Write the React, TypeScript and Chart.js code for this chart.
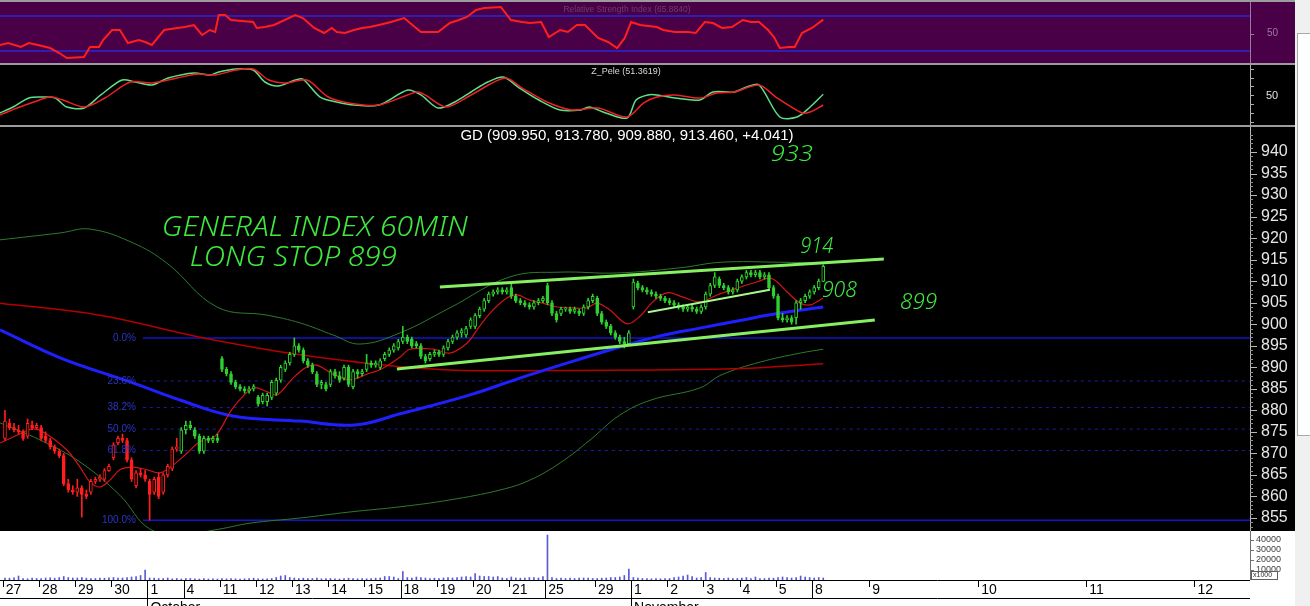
import React, { useEffect, useRef } from 'react';
import { Chart, registerables } from 'chart.js';

Chart.register(...registerables);

// ---------------- data ----------------
// hourly candles [open, high, low, close], 27 Sep – 8 Nov
const ohlc: number[][] = [
  [873.5, 880, 873, 877.5], [877, 878, 875.5, 876], [876, 877, 875, 875.5], [875.5, 876.5, 874.5, 875], [875, 875.5, 873, 873.5], [874, 878, 873.5, 877], [876.5, 877.5, 875.5, 876], [876, 877, 875.5, 876.5],
  [876, 876.5, 873, 873.5], [874, 875, 872.5, 873], [873, 873.5, 871, 871.5], [871.5, 872, 870, 870.5], [870.5, 871, 869, 869.5], [869.5, 870, 862.5, 863], [863, 864, 861, 861.5], [861.5, 862.5, 860.5, 861],
  [861, 864, 860, 862], [862, 862.5, 855.2, 860.5], [860.5, 861.5, 859.5, 860], [861, 864, 860.5, 863.5], [863.5, 864.5, 863, 864], [864, 865, 863.5, 864.5], [864, 866.5, 863.5, 866], [866, 867.5, 865.8, 867],
  [869, 872.5, 868.5, 872], [872.5, 874, 872, 873.5], [873.5, 874.5, 872.5, 873], [873, 873.5, 868, 868.5], [868.5, 869, 863.5, 864], [862.5, 866, 862, 865.5], [865.5, 866.5, 864.5, 865], [865, 866, 863.5, 864],
  [863.5, 864, 854.5, 860.5], [861, 864.5, 860.5, 864], [864.5, 865.5, 859.5, 860], [861, 865.5, 860.5, 865], [865, 867.5, 864.5, 867], [866.5, 871.5, 866, 871], [871, 873.5, 870.5, 871.5], [870.5, 876, 870, 875.5],
  [875.5, 877.5, 874.5, 876.5], [876.5, 877.5, 875.5, 876], [875.5, 876, 873.5, 874], [874, 874.5, 870, 870.5], [870.5, 874, 870, 873.5], [873.5, 874, 872.5, 873], [873, 874, 872.5, 873.5], [873.5, 874.5, 872.5, 873],
  [892, 892.5, 889, 889.5], [889.5, 890, 888, 888.5], [888.5, 889, 886, 886.5], [886.5, 887, 885, 885.5], [885.5, 886, 884.5, 885], [885, 885.5, 884, 884.5], [884.5, 885.5, 884, 885], [885, 886, 884.5, 885.5],
  [883, 883.5, 881, 881.5], [882, 884, 881.5, 883.5], [882, 884, 881, 883.5], [883, 887, 882.5, 886.5], [884, 887.5, 883.5, 887], [887, 890.5, 886.5, 890], [889.5, 891.5, 889, 891], [891, 893.5, 890.5, 893],
  [893, 896.8, 892.5, 895], [895, 895.5, 893.5, 894], [894, 894.5, 891, 891.5], [891.5, 892, 890, 890.5], [890.5, 891, 888.5, 889], [888.5, 889, 885.5, 886], [886, 887, 885, 886.5], [886, 886.5, 884.5, 885],
  [886, 889.5, 885.5, 889], [889, 889.5, 887.5, 888], [888, 889, 886.5, 887], [887.5, 890.5, 887, 890], [890, 890.5, 885.5, 886], [885.5, 889.5, 885, 889], [889, 889.5, 887.5, 888.5], [888.5, 889.5, 888, 889],
  [889.5, 893, 889, 891], [891, 891.5, 890, 890.5], [890.5, 891.5, 890, 891], [890, 892, 889.5, 891.5], [892, 893.5, 891.5, 893], [893, 894.5, 892.5, 894], [894, 895.5, 893.5, 895], [894.5, 896.5, 894, 896],
  [896, 899.5, 895.5, 897], [897, 897.5, 895.5, 896], [896.5, 897, 894.5, 895], [895.5, 896, 894.5, 895], [895, 895.5, 892, 892.5], [892.5, 893, 891, 891.5], [892, 893.5, 891.5, 893], [893, 894, 892.5, 893.5],
  [893.5, 894, 892.5, 893], [893, 895, 892.5, 894.5], [894.5, 896.5, 894, 896], [896, 897.5, 895.5, 897], [897, 898.5, 896.5, 898], [898, 899, 897, 898.5], [897.5, 899.5, 897, 899], [899.5, 901.5, 899, 901],
  [899.5, 902.5, 899, 902], [902, 904, 901.5, 903.5], [903.5, 906, 903, 905.5], [905.5, 907.5, 905, 907], [907, 908, 906.5, 907.5], [907.5, 908.5, 907, 908], [908, 908.5, 907, 907.5], [907.5, 908.5, 907, 908],
  [908.5, 909.5, 906, 906.5], [906.5, 907, 905, 905.5], [905.5, 906, 904.5, 905], [905, 905.5, 904, 904.5], [904.5, 905, 903.5, 904], [904, 905.5, 903.5, 905], [905, 906, 904.5, 905.5], [905.5, 906.5, 905, 906],
  [909, 909.5, 904.5, 905], [905, 905.5, 902, 902.5], [902.5, 903, 900.5, 901], [902.5, 904, 902, 903.5], [903.5, 904, 903, 903.7], [903.5, 904, 902.5, 903], [903, 904, 902.5, 903.5], [903, 903.5, 902, 902.5], [902.5, 904.5, 902, 904], [904, 906, 903.5, 905.5], [905.5, 907, 905, 906.5],
  [906, 906.5, 902, 902.5], [902.5, 903, 900, 900.5], [900.5, 901, 899, 899.5], [899.5, 900, 897.5, 898], [898, 898.5, 896.5, 897], [897, 897.5, 895.5, 896], [896, 897, 894.5, 895.5], [895.5, 898.5, 895, 898],
  [904, 910.5, 903.5, 909.8], [909.5, 910, 908, 908.5], [908.5, 909, 907.5, 908], [908, 908.5, 907, 907.5], [907.5, 908, 906.5, 907], [907, 907.5, 906, 906.5], [906.5, 907, 905.5, 906], [906, 906.5, 905, 905.5],
  [905.5, 906, 904.5, 905], [905, 905.5, 904, 904.5], [904.5, 905, 903.5, 904], [904, 904.5, 903, 903.5], [903.5, 904.5, 903, 904], [904, 904.5, 903, 903.5], [903.5, 904, 902.5, 903], [903, 904.5, 902.5, 904],
  [904, 907.5, 903.5, 907], [907, 909.5, 906.5, 909], [909, 912, 908.5, 911], [910.5, 911, 908.5, 909], [909, 909.5, 908, 908.5], [908.5, 909, 907, 907.5], [907.5, 908.5, 907, 908], [908, 910.5, 907.5, 910],
  [910, 911.5, 909.5, 911], [911, 912.5, 910.5, 912], [912, 912.5, 911, 911.5], [911.5, 912.5, 911, 912], [912, 912.5, 910.5, 911], [911, 912, 910.5, 911.5], [911.5, 912, 908, 908.5], [908.5, 909, 906, 906.5],
  [906.5, 907, 901, 901.5], [901.5, 902.5, 900.5, 901], [901, 902, 900.5, 901.5], [901.5, 902, 900, 900.5], [901.5, 905.5, 900, 905], [905, 906, 903.5, 905.5], [905.5, 907, 905, 906.5], [906.5, 908, 906, 907.5],
  [907.5, 909, 907, 908.5], [908.5, 910.5, 908, 910], [909.95, 913.78, 909.88, 913.46],
];
const RED_UNTIL = 39; // candles before this index are painted red

const volume: number[] = [
  2000, 1800, 2200, 4000, 1500, 1200, 1800, 1500,
  1500, 2000, 2200, 1800, 2500, 3500, 2500, 2000,
  2000, 2500, 1800, 1500, 1500, 2000, 1800, 2200,
  2500, 1800, 2000, 2500, 3000, 3500, 4500, 10000,
  2000, 1800, 1500, 1500, 2000, 1200, 1500, 1000,
  1500, 1500, 1200, 1000, 1500, 1000, 1200, 1000,
  1500, 1200, 1500, 1200, 1000, 1200, 1500, 1800,
  1200, 1000, 1200, 1500, 2500, 4000, 4500, 2500,
  2000, 1500, 1800, 1500, 1500, 2000, 1200, 1500,
  1500, 1200, 1000, 1500, 1800, 1500, 1200, 1500,
  1200, 1500, 1800, 2000, 3500, 3500, 3000, 1500,
  8500, 2500, 2000, 3000, 2500, 2000, 1500, 1800,
  1500, 2000, 2500, 2000, 2500, 3000, 3500, 3000,
  6500, 4000, 3500, 3500, 3000, 3500, 2000, 1500,
  3000, 2000, 1800, 2000, 2500, 2500, 2000, 3500,
  45000, 2500, 1500, 2000, 1500, 1800, 1500, 2000, 2000, 1800, 1500,
  1500, 1800, 2000, 2500, 2500, 3000, 4500, 11000,
  2500, 2000, 1500, 1500, 1200, 1500, 1200, 1500,
  1500, 2500, 3000, 4000, 5000, 3500, 2000, 2500,
  7500, 2500, 2000, 1800, 1500, 2000, 1500, 1500,
  2000, 2500, 1500, 3000, 1500, 1500, 2000, 1800,
  2500, 3000, 2500, 2000, 2500, 4000, 3000, 2500,
  2000, 2500, 2000,
];

// indicator lines as [bar, value]
const maShort: number[][] = [
  [-1.1, 872.4], [1.8, 873.8], [6.2, 875.7], [8.9, 874.7], [13.7, 870.8], [16.6, 866.8], [18.8, 863.4], [21.0, 862.2], [23.2, 863.8], [25.4, 866.2], [28.3, 866.8], [31.4, 866.2], [34.3, 865.5], [37.2, 867.3], [40.3, 870.1], [43.1, 872.7], [46.5, 874.0], [50.4, 880.5], [54.9, 885.2], [58.0, 884.3], [60.2, 883.6], [63.7, 887.5], [66.8, 890.1], [69.0, 890.5], [72.6, 888.4], [76.3, 887.1], [80.1, 888.4], [83.6, 889.8], [87.4, 892.4], [89.6, 894.2], [94.7, 894.2], [98.4, 893.3], [102.2, 895.6], [104.4, 898.7], [107.3, 902.6], [111.0, 906.1], [113.3, 906.8], [116.1, 905.6], [119.0, 904.9], [122.1, 904.0], [125.6, 903.8], [128.7, 903.8], [131.0, 904.9], [133.8, 903.3], [137.6, 900.1], [140.5, 901.9], [143.3, 905.2], [146.4, 907.3], [150.0, 906.3], [153.7, 905.2], [157.5, 906.8], [161.9, 908.4], [166.3, 909.8], [169.2, 910.7], [170.8, 909.8], [173.0, 907.5], [175.9, 904.9], [178.1, 904.5], [181, 906.1],
];
const maLong: number[][] = [
  [-1.1, 904.9], [21.0, 902.1], [43.1, 897.0], [65.3, 892.9], [87.4, 890.1], [98.4, 889.4], [109.5, 889.2], [142.9, 889.4], [164.8, 889.8], [181, 890.8],
];
const maBlue: number[][] = [
  [-1.1, 898.7], [12.2, 892.2], [27.7, 886.6], [38.7, 882.4], [50.4, 878.7], [65.3, 877.5], [77.4, 876.6], [87.4, 879.2], [102.9, 883.6], [113.9, 887.5], [125.0, 891.2], [136.0, 894.7], [144.9, 897.3], [153.7, 899.1], [163.2, 901.0], [171.4, 902.6], [181, 904.0],
];
const bandUpper: number[][] = [
  [-1.1, 919.6], [12.2, 921.2], [18.8, 922.1], [28.3, 918.9], [35.8, 914.2], [46.9, 904.0], [58.0, 902.1], [65.3, 900.3], [72.6, 897.5], [78.5, 895.4], [87.4, 898.0], [98.4, 903.8], [111.7, 911.0], [122.8, 912.1], [135.2, 911.9], [149.3, 913.1], [158.4, 914.4], [171.4, 914.4], [181, 914.2],
];
const bandLower: number[][] = [
  [-1.1, 877.1], [7.8, 873.1], [16.6, 868.0], [25.4, 860.3], [32.1, 852.4], [39.8, 851.3], [47.3, 852.4], [54.2, 853.8], [65.3, 855.0], [76.3, 856.4], [87.4, 857.6], [98.4, 859.2], [109.5, 861.5], [116.1, 863.8], [122.8, 867.8], [129.4, 873.1], [136.0, 878.9], [142.9, 882.4], [153.7, 885.2], [158.4, 888.2], [167.0, 891.2], [175.9, 893.3], [181, 894.2],
];
const trendUpper: number[][] = [[96.2, 908.65], [194.4, 915.15]];
const trendLower: number[][] = [[86.7, 889.6], [192.4, 901.0]];
const trendInner: number[][] = [[142.2, 902.8], [169.2, 908.0]];

const FIB_HIGH = 896.8;
const FIB_LOW = 854.5;
const FIB_START = 30.5;
const fibPercents = [0, 23.6, 38.2, 50, 61.8, 100];

const rsi: number[][] = [
  [-1.1, 36.9], [0.7, 39.1], [3.5, 34.6], [5.3, 39.1], [7.3, 36.9], [10.0, 33.4], [12.0, 27.7], [13.7, 22.0], [17.5, 23.1], [18.8, 34.6], [20.8, 34.6], [21.7, 42.6], [23.7, 54.0], [25.4, 54.0], [27.2, 39.1], [29.6, 42.6], [31.0, 40.3], [32.5, 36.9], [35.2, 54.0], [38.1, 56.3], [39.8, 57.4], [41.8, 59.7], [43.6, 48.3], [45.3, 54.0], [46.5, 51.7], [47.3, 71.1], [48.7, 71.1], [50.0, 65.4], [54.9, 63.1], [55.7, 56.3], [57.5, 57.4], [59.5, 59.7], [64.2, 71.1], [65.9, 67.7], [68.4, 56.3], [70.6, 50.6], [72.3, 56.3], [73.4, 51.7], [75.2, 50.6], [77.2, 54.0], [79.0, 56.3], [80.7, 57.4], [82.7, 59.7], [85.4, 63.1], [88.3, 67.7], [89.6, 62.0], [92.0, 51.7], [95.8, 51.7], [98.4, 62.0], [100.4, 65.4], [102.2, 68.9], [104.2, 76.9], [106.0, 79.1], [109.7, 80.3], [111.9, 65.4], [114.4, 63.1], [116.1, 62.0], [118.6, 63.1], [120.3, 46.0], [122.8, 54.0], [124.5, 51.7], [126.5, 59.7], [128.3, 59.7], [131.2, 44.9], [133.4, 40.3], [135.4, 33.4], [137.1, 44.9], [138.5, 63.1], [140.5, 59.7], [144.2, 57.4], [145.6, 54.0], [148.2, 51.7], [151.1, 51.7], [152.8, 50.6], [154.8, 63.1], [156.6, 62.0], [158.6, 56.3], [160.8, 57.4], [163.2, 65.4], [165.0, 63.1], [166.8, 63.1], [168.8, 54.0], [170.1, 46.0], [171.4, 33.4], [173.4, 34.6], [174.7, 34.6], [176.3, 50.6], [178.5, 56.3], [181, 65.88],
];
const rsiLevels = [70, 30];

const zGreen: number[][] = [
  [-1.1, 30.6], [1.8, 37.2], [5.3, 47.2], [8.2, 48.3], [11.1, 47.2], [13.7, 37.2], [17.5, 36.1], [21.2, 50.6], [25.9, 67.2], [28.8, 65.0], [32.5, 61.7], [36.1, 69.4], [41.8, 75.0], [45.3, 72.8], [47.3, 76.1], [51.1, 79.4], [54.9, 78.3], [57.5, 65.0], [60.4, 60.6], [64.2, 67.2], [65.9, 68.3], [69.7, 48.3], [73.4, 42.8], [77.2, 39.4], [82.7, 39.4], [89.1, 56.1], [92.0, 50.6], [95.8, 36.1], [99.5, 42.8], [103.1, 53.9], [106.8, 65.0], [110.2, 70.6], [113.5, 59.4], [118.1, 45.0], [122.8, 33.9], [127.4, 33.9], [129.2, 37.2], [132.9, 30.6], [137.6, 25.0], [139.6, 45.0], [142.2, 50.6], [144.2, 50.6], [148.2, 47.2], [153.7, 45.0], [156.6, 53.9], [161.3, 53.9], [164.1, 59.4], [166.8, 61.7], [171.4, 26.1], [175.2, 26.1], [178.1, 37.2], [181, 51.36],
];
const zRed: number[][] = [
  [-1.1, 28.3], [2.7, 36.1], [6.4, 42.8], [10.0, 48.3], [12.8, 45.0], [17.5, 37.2], [22.1, 47.2], [27.7, 65.0], [32.5, 63.9], [38.1, 69.4], [42.7, 73.9], [46.5, 72.8], [51.1, 78.3], [54.9, 79.4], [58.4, 67.2], [62.2, 63.9], [66.8, 67.2], [71.5, 48.3], [76.1, 41.7], [82.7, 39.4], [91.1, 53.9], [92.9, 50.6], [97.6, 37.2], [103.1, 50.6], [110.6, 69.4], [114.4, 58.3], [119.9, 42.8], [125.4, 33.9], [131.2, 36.1], [137.6, 26.1], [141.3, 41.7], [144.2, 48.3], [148.2, 50.6], [153.7, 47.2], [157.5, 52.8], [161.3, 53.9], [166.8, 61.7], [170.5, 48.3], [176.3, 30.6], [178.1, 31.7], [181, 39.4],
];

// time axis
const dayTickPos = [-0.5, 7.5, 15.5, 23.5, 31.5, 39.5, 47.5, 55.5, 63.5, 71.5, 79.5, 87.5, 95.5, 103.5, 111.5, 119.5, 130.5, 138.5, 146.5, 154.5, 162.5, 170.5, 178.5, 191.2, 215.3, 239.2, 263.1];
const dayTickLabels = ['27', '28', '29', '30', '1', '4', '11', '12', '13', '14', '15', '18', '19', '20', '21', '25', '29', '1', '2', '3', '4', '5', '8', '9', '10', '11', '12'];
const weekTickIdx = [4, 5, 11, 15, 17, 22];
const monthTickIdx = [4, 17];
const monthLabels = ['October', 'November'];

const priceTicks = [855, 860, 865, 870, 875, 880, 885, 890, 895, 900, 905, 910, 915, 920, 925, 930, 935, 940];
const volumeTicks = [10000, 20000, 30000, 40000];
const zTicks = [20, 30, 40, 50, 60, 70, 80];

const TITLE_MAIN = 'GD (909.950, 913.780, 909.880, 913.460, +4.041)';
const TITLE_RSI = 'Relative Strength Index (65.8840)';
const TITLE_Z = 'Z_Pele (51.3619)';

// ---------------- layout / style ----------------
const X_MIN = -1.1;
const X_MAX = 275.4;
const PLOT_W = 1250;
const AXIS_W = 45;
const CANVAS_W = PLOT_W + AXIS_W;
const FONT = "'Liberation Sans', Arial, sans-serif";
const HAND = "'Noto Sans', 'DejaVu Sans', sans-serif";
const RED = '#ff1e1e';
const GREEN = '#2fd02f';
const HAND_GREEN = '#3ee83e';

const pts = (a: number[][]) => a.map(([x, y]) => ({ x, y }));

function lineDs(data: any[], color: string, width: number, order: number, tension = 0.4, dash: number[] = []) {
  return { type: 'line', data, borderColor: color, borderWidth: width, pointRadius: 0, tension, fill: false, order, borderDash: dash, clip: 0 };
}

function baseOptions(yMin: number, yMax: number, yTicks: number[], tickColor: string, fontSize: number, padding: number, xAxis: any = null) {
  return {
    responsive: false,
    animation: false,
    devicePixelRatio: 1,
    events: [],
    layout: { padding: 0 },
    plugins: { legend: { display: false }, tooltip: { enabled: false }, title: { display: false } },
    scales: {
      x: xAxis || {
        type: 'linear', min: X_MIN, max: X_MAX, display: false, offset: false, grid: { display: false },
      },
      y: {
        type: 'linear', position: 'right', min: yMin, max: yMax,
        afterFit: (s: any) => { s.width = AXIS_W; s.paddingTop = 0; s.paddingBottom = 0; },
        afterBuildTicks: (s: any) => { s.ticks = yTicks.map((v) => ({ value: v })); },
        grid: { display: false, drawTicks: false },
        border: { display: false },
        ticks: { color: tickColor, font: { family: FONT, size: fontSize }, padding, callback: (v: any) => String(v) },
      },
    },
  };
}

function bg(color: string) {
  return {
    id: 'bg',
    beforeDraw(chart: any) {
      const { ctx, width, height } = chart;
      ctx.save();
      ctx.fillStyle = color;
      ctx.fillRect(0, 0, width, height);
      ctx.restore();
    },
  };
}

function yTickMarks(values: number[], len: number, color: string, axisLine: boolean) {
  return {
    id: 'ytm',
    afterDraw(chart: any) {
      const { ctx, chartArea } = chart;
      const y = chart.scales.y;
      ctx.save();
      ctx.strokeStyle = color;
      ctx.lineWidth = 1;
      ctx.beginPath();
      if (axisLine) {
        ctx.moveTo(chartArea.right + 0.5, chartArea.top);
        ctx.lineTo(chartArea.right + 0.5, chartArea.bottom);
      }
      values.forEach((v) => {
        const py = Math.round(y.getPixelForValue(v)) + 0.5;
        ctx.moveTo(chartArea.right, py);
        ctx.lineTo(chartArea.right + len, py);
      });
      ctx.stroke();
      ctx.restore();
    },
  };
}

function fitText(ctx: any, text: string, x: number, y: number, width: number, font: string, color: string) {
  ctx.save();
  ctx.font = font;
  const w = ctx.measureText(text).width || 1;
  ctx.translate(x, y);
  ctx.scale(width / w, 1);
  ctx.fillStyle = color;
  ctx.textAlign = 'left';
  ctx.textBaseline = 'alphabetic';
  ctx.fillText(text, 0, 0);
  ctx.restore();
}

export default function App() {
  const rsiRef = useRef<HTMLCanvasElement>(null);
  const zRef = useRef<HTMLCanvasElement>(null);
  const mainRef = useRef<HTMLCanvasElement>(null);
  const volRef = useRef<HTMLCanvasElement>(null);

  useEffect(() => {
    const charts: any[] = [];

    // ---- RSI pane ----
    const rsiChart = new Chart(rsiRef.current as any, {
      type: 'line',
      data: {
        datasets: [
          lineDs(pts(rsi), RED, 2, 0, 0),
          ...rsiLevels.map((lv) => lineDs([{ x: X_MIN, y: lv }, { x: X_MAX, y: lv }], '#2828d8', 1.5, 1, 0)),
        ] as any,
      },
      options: baseOptions(16.3, 86, [50], '#a07aa0', 10, 17) as any,
      plugins: [
        bg('#4a0046'),
        yTickMarks([50], 4, '#9a7a9a', true),
        {
          id: 'rsiTitle',
          afterDraw(chart: any) {
            const { ctx } = chart;
            ctx.save();
            ctx.font = `8.5px ${FONT}`;
            ctx.fillStyle = '#6e3c6e';
            ctx.textAlign = 'center';
            ctx.textBaseline = 'top';
            ctx.fillText(TITLE_RSI, 627, 3);
            ctx.restore();
          },
        },
      ],
    });
    charts.push(rsiChart);

    // ---- Z_Pele pane ----
    const zChart = new Chart(zRef.current as any, {
      type: 'line',
      data: {
        datasets: [
          lineDs(pts(zGreen), '#5ee08a', 1.5, 1, 0.3),
          lineDs(pts(zRed), '#ee2222', 1.5, 0, 0.3),
        ] as any,
      },
      options: baseOptions(17.2, 83.9, [50], '#e0e0e0', 11, 16) as any,
      plugins: [
        bg('#000000'),
        yTickMarks(zTicks, 4, '#b0b0b0', true),
        {
          id: 'zTitle',
          afterDraw(chart: any) {
            const { ctx } = chart;
            ctx.save();
            ctx.font = `9px ${FONT}`;
            ctx.fillStyle = '#d8d8d8';
            ctx.textAlign = 'center';
            ctx.textBaseline = 'top';
            ctx.fillText(TITLE_Z, 626, 2);
            ctx.restore();
          },
        },
      ],
    });
    charts.push(zChart);

    // ---- main price pane ----
    const candleColor = (i: number) => (i < RED_UNTIL ? RED : GREEN);
    const wickData = ohlc.map((c, i) => ({ x: i, y: [c[2], c[1]] }));
    const bodyData = ohlc.map((c, i) => ({ x: i, y: [Math.min(c[0], c[3]), Math.max(c[0], c[3])] }));
    const colors = ohlc.map((_, i) => candleColor(i));
    const bodyFill = ohlc.map((c, i) => (c[3] > c[0] ? '#000000' : candleColor(i)));
    const fibLevels = fibPercents.map((p) => FIB_HIGH - (p / 100) * (FIB_HIGH - FIB_LOW));

    const minorPrice: number[] = [];
    for (let v = 852; v <= 945; v++) if (v % 5 !== 0) minorPrice.push(v);

    const mainChart = new Chart(mainRef.current as any, {
      type: 'bar',
      data: {
        datasets: [
          ...fibLevels.map((lv, k) =>
            lineDs([{ x: FIB_START, y: lv }, { x: X_MAX, y: lv }],
              k === 0 || k === fibLevels.length - 1 ? '#1414c8' : '#1c1cb4',
              k === 0 || k === fibLevels.length - 1 ? 1.5 : 1, 9, 0,
              k === 0 || k === fibLevels.length - 1 ? [] : [3, 4])),
          lineDs(pts(bandUpper), '#2e7a2e', 1, 8, 0.4),
          lineDs(pts(bandLower), '#2e7a2e', 1, 8, 0.4),
          lineDs(pts(maLong), '#b40000', 1.5, 7, 0.4),
          lineDs(pts(maBlue), '#2020ff', 3, 6, 0.4),
          lineDs(pts(maShort), '#d41414', 1.2, 5, 0.35),
          {
            type: 'bar', data: wickData, backgroundColor: colors, barThickness: 1, grouped: false, order: 4,
            borderWidth: 0, minBarLength: 1,
          },
          {
            type: 'bar', data: bodyData, backgroundColor: bodyFill, borderColor: colors, borderWidth: 1,
            borderSkipped: false, barThickness: 3, grouped: false, order: 3, minBarLength: 1,
          },
          lineDs(pts(trendUpper), '#86f062', 3, 1, 0),
          lineDs(pts(trendLower), '#86f062', 3, 1, 0),
          lineDs(pts(trendInner), '#a8f890', 2, 1, 0),
        ] as any,
      },
      options: baseOptions(851.98, 945.81, priceTicks, '#e6e6e6', 16, 11) as any,
      plugins: [
        bg('#000000'),
        yTickMarks(priceTicks, 7, '#b8b8b8', true),
        yTickMarks(minorPrice, 3, '#909090', false),
        {
          id: 'mainText',
          afterDraw(chart: any) {
            const { ctx } = chart;
            const xs = chart.scales.x;
            const ys = chart.scales.y;
            ctx.save();
            // title
            ctx.font = `15px ${FONT}`;
            ctx.fillStyle = '#ffffff';
            ctx.textAlign = 'center';
            ctx.textBaseline = 'top';
            ctx.fillText(TITLE_MAIN, 627, 1);
            // fib labels
            ctx.font = `10px ${FONT}`;
            ctx.fillStyle = '#2b35c8';
            ctx.textAlign = 'right';
            ctx.textBaseline = 'middle';
            const fx = xs.getPixelForValue(FIB_START) - 7;
            fibLevels.forEach((lv, k) => {
              ctx.fillText(`${fibPercents[k].toFixed(1)}%`, fx, ys.getPixelForValue(lv));
            });
            ctx.restore();
            // hand-written notes
            const notes: [string, number, number, number, number][] = [
              ['GENERAL INDEX 60MIN', 34.7, 920.6, 306, 27],
              ['LONG STOP 899', 40.9, 913.6, 207, 27],
              ['933', 169.4, 937.9, 42, 22],
              ['914', 175.9, 916.6, 33, 21],
              ['908', 180.7, 906.3, 35, 21],
              ['899', 198.0, 903.6, 37, 21],
            ];
            notes.forEach(([t, bx, pv, w, size]) => {
              fitText(ctx, t, xs.getPixelForValue(bx), ys.getPixelForValue(pv), w, `italic 300 ${size}px ${HAND}`, HAND_GREEN);
            });
          },
        },
      ],
    });
    charts.push(mainChart);

    // ---- volume pane + time axis ----
    const volData = volume.map((v, i) => ({ x: i, y: v }));
    const volChart = new Chart(volRef.current as any, {
      type: 'bar',
      data: {
        datasets: [{ data: volData, backgroundColor: '#5a5ad6', barThickness: 1, borderWidth: 0 }] as any,
      },
      options: baseOptions(0, 49000, volumeTicks, '#404040', 9, 6, {
        type: 'linear', min: X_MIN, max: X_MAX, offset: false, position: 'bottom',
        afterFit: (s: any) => { s.height = 26; s.paddingLeft = 0; s.paddingRight = 0; },
        afterBuildTicks: (s: any) => { s.ticks = dayTickPos.map((v) => ({ value: v })); },
        grid: { display: false, drawTicks: false },
        border: { display: false },
        ticks: {
          autoSkip: false, maxRotation: 0, minRotation: 0, align: 'start', labelOffset: 3, padding: 2,
          color: '#000000', font: { family: FONT, size: 14 },
          callback: (_v: any, i: number) => dayTickLabels[i],
        },
      }) as any,
      plugins: [
        bg('#ffffff'),
        yTickMarks(volumeTicks, 4, '#707070', true),
        {
          id: 'timeAxis',
          afterDraw(chart: any) {
            const { ctx, chartArea, height } = chart;
            const xs = chart.scales.x;
            const bottom = chartArea.bottom;
            ctx.save();
            ctx.strokeStyle = '#000000';
            ctx.lineWidth = 1;
            ctx.beginPath();
            ctx.moveTo(0, bottom + 0.5);
            ctx.lineTo(chartArea.right, bottom + 0.5);
            ctx.moveTo(0, bottom + 18.5);
            ctx.lineTo(chartArea.right, bottom + 18.5);
            dayTickPos.forEach((v, i) => {
              const px = Math.round(xs.getPixelForValue(v)) + 0.5;
              let end = bottom + 7;
              if (weekTickIdx.includes(i)) end = bottom + 18;
              if (monthTickIdx.includes(i)) end = height;
              ctx.moveTo(px, bottom);
              ctx.lineTo(px, end);
            });
            ctx.stroke();
            ctx.font = `14px ${FONT}`;
            ctx.fillStyle = '#000000';
            ctx.textAlign = 'left';
            ctx.textBaseline = 'top';
            monthTickIdx.forEach((idx, k) => {
              ctx.fillText(monthLabels[k], xs.getPixelForValue(dayTickPos[idx]) + 3, bottom + 21);
            });
            // x1000 unit box
            ctx.strokeStyle = '#606060';
            ctx.strokeRect(chartArea.right + 1.5, bottom - 8.5, 26, 8);
            ctx.font = `7px ${FONT}`;
            ctx.fillStyle = '#303030';
            ctx.textBaseline = 'middle';
            ctx.fillText('x1000', chartArea.right + 3, bottom - 4.5);
            ctx.restore();
          },
        },
      ],
    });
    charts.push(volChart);

    return () => charts.forEach((c) => c.destroy());
  }, []);

  const cv = (top: number, h: number): React.CSSProperties => ({ position: 'absolute', left: 0, top, width: CANVAS_W, height: h });

  return (
    <div style={{ position: 'absolute', left: 0, top: 0, width: 1310, height: 606, background: '#f0f0f0', overflow: 'hidden' }}>
      <div style={{ position: 'absolute', left: 0, top: 0, width: CANVAS_W, height: 531, background: '#9c9c9c' }} />
      <div style={{ position: 'absolute', left: 1297, top: 33, width: 20, height: 401, background: '#ffffff', border: '1px solid #a8a8a8' }} />
      <canvas ref={rsiRef} width={CANVAS_W} height={61} style={cv(2, 61)} />
      <canvas ref={zRef} width={CANVAS_W} height={60} style={cv(65, 60)} />
      <canvas ref={mainRef} width={CANVAS_W} height={404} style={cv(127, 404)} />
      <canvas ref={volRef} width={CANVAS_W} height={75} style={cv(531, 75)} />
    </div>
  );
}
